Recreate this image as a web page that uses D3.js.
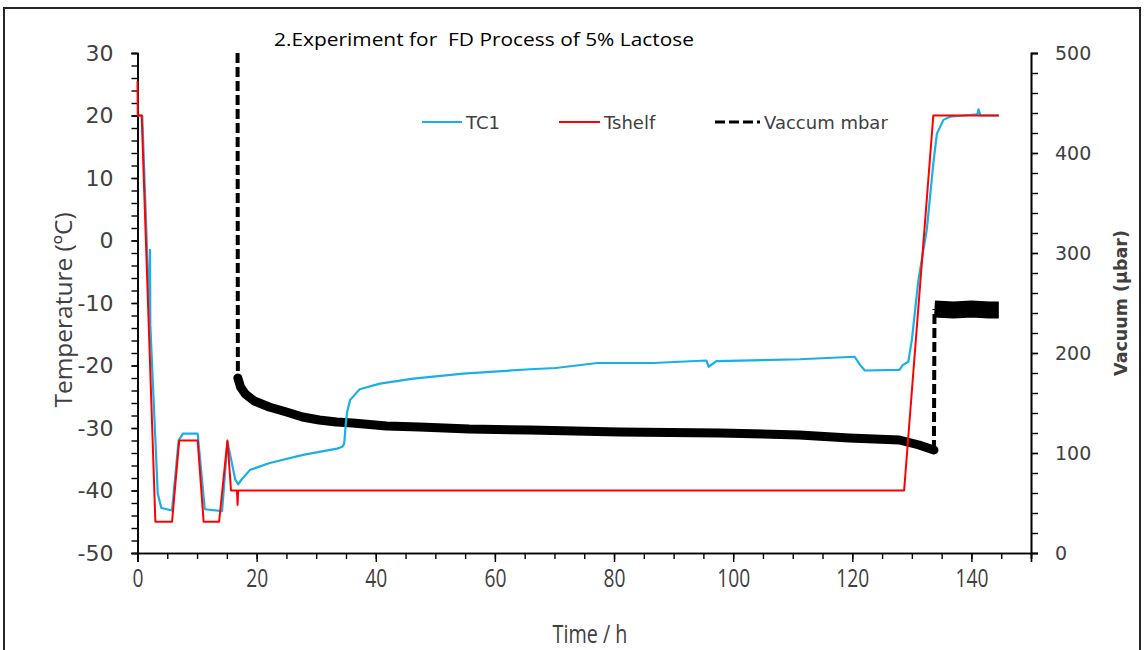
<!DOCTYPE html>
<html>
<head>
<meta charset="utf-8">
<script src="https://cdn.jsdelivr.net/npm/d3@7"></script>
<style>
  html, body { margin: 0; padding: 0; background: #fff; }
  svg { display: block; }
  text { font-family: "Open Sans", "Liberation Sans", sans-serif; fill: #404040; }
  .dv { font-family: "DejaVu Sans", "Verdana", sans-serif; }
</style>
</head>
<body>
<svg id="chart" width="1144" height="650"></svg>
<script>
// ---- data (time in hours) ----
const timeTicks = [0, 20, 40, 60, 80, 100, 120, 140];
const tempTicks = [30, 20, 10, 0, -10, -20, -30, -40, -50];
const vacTicks = [0, 100, 200, 300, 400, 500];

// product thermocouple TC1, °C
const tc1 = [
  [0, 20], [0.8, 20], [2.05, -13.5], [2.1, -1.5], [2.15, -13.5], [3.4, -40.5],
  [4.0, -42.8], [5.8, -43.2], [6.9, -32], [7.6, -30.9], [10.1, -30.9],
  [11.3, -43], [14.2, -43.3], [15.1, -32.2], [16.4, -38.2], [16.9, -39],
  [17.5, -38.2], [18.9, -36.7], [22.2, -35.6], [27.8, -34.3], [33.5, -33.3],
  [34.4, -33.0], [34.7, -32.5], [35.0, -29], [35.2, -27.4], [35.7, -25.5],
  [37.3, -23.8], [40.7, -22.9], [46.3, -22.1], [54.7, -21.3], [65.9, -20.6],
  [70.2, -20.4], [77.2, -19.6], [86.6, -19.6], [95.5, -19.2], [95.9, -20.2],
  [97.2, -19.3], [111.2, -19.0], [120.4, -18.6], [121.3, -19.9], [122.1, -20.8],
  [127.9, -20.7], [128.5, -19.9], [129.4, -19.4], [130.0, -15.9], [131.1, -6.3],
  [132.5, 1.7], [133.6, 12.3], [134.2, 17.1], [135.3, 19.3], [136.4, 19.8],
  [141.0, 20.2], [141.2, 21], [141.5, 20], [144.6, 20]
];

// shelf temperature, °C
const tshelf = [
  [0, 25.5], [0.05, 20], [0.7, 20], [3.0, -45], [5.8, -45], [7.0, -32],
  [10.1, -32], [11.1, -45], [13.7, -45], [15.1, -32], [15.7, -40],
  [16.7, -40], [16.8, -42.3], [16.9, -40], [128.7, -40], [133.6, 20],
  [144.6, 20]
];

// chamber pressure, µbar: pump-down / primary + secondary drying / release
const vacStart = [16.8, 500];
const vacDrying = [
  [16.85, 175], [17.3, 166], [18.1, 159], [19.6, 152], [22.1, 146], [25.0, 141],
  [27.7, 136], [30.5, 133], [33.4, 131], [36.1, 130], [41.8, 127], [47.3, 126],
  [55.7, 124], [65.8, 123], [80.9, 121], [97.7, 120], [111.1, 118],
  [119.5, 115], [127.9, 113], [131.2, 108], [133.7, 103]
];
const vacRelease = [
  [133.8, 244], [137, 243], [140, 244], [143, 243], [144.6, 243]
];

// ---- layout ----
const svg = d3.select("#chart");
const x = d3.scaleLinear().domain([0, 150]).range([137.5, 1031]);
const yT = d3.scaleLinear().domain([-50, 30]).range([553, 53]);
const yV = d3.scaleLinear().domain([0, 500]).range([553, 53]);
const plain = d => String(d);   // hyphen-minus for negatives

// outer frame
svg.append("rect")
  .attr("x", 4).attr("y", 8).attr("width", 1136).attr("height", 680)
  .attr("fill", "none").attr("stroke", "#262626").attr("stroke-width", 2);

// title
svg.append("text")
  .attr("x", 274).attr("y", 46)
  .style("white-space", "pre")
  .attr("font-size", 18)
  .attr("textLength", 420).attr("lengthAdjust", "spacingAndGlyphs")
  .style("fill", "#000")
  .text("2.Experiment for  FD Process of 5% Lactose");

// ---- axes ----
function styleAxis(g) {
  g.selectAll("path.domain").attr("stroke", "#000").attr("stroke-width", 1.6);
  g.selectAll(".tick line").attr("stroke", "#000").attr("stroke-width", 1.4);
}

// minor ticks
svg.append("g").attr("transform", "translate(0,553)")
  .call(d3.axisBottom(x).tickValues(d3.range(0, 151, 5)).tickSize(6).tickFormat(""))
  .call(styleAxis);
svg.append("g").attr("transform", "translate(137.5,0)")
  .call(d3.axisLeft(yT).tickValues(d3.range(-50, 31, 2)).tickSize(6).tickFormat(""))
  .call(styleAxis);
svg.append("g").attr("transform", "translate(1031,0)")
  .call(d3.axisRight(yV).tickValues(d3.range(0, 501, 20)).tickSize(7).tickFormat(""))
  .call(styleAxis);

// major ticks with labels
const gx = svg.append("g").attr("transform", "translate(0,553)")
  .call(d3.axisBottom(x).tickValues(timeTicks).tickSize(9).tickPadding(13).tickFormat(plain))
  .call(styleAxis);
gx.selectAll("text").attr("font-size", 26).attr("fill", "#404040").attr("font-family", null)
  .attr("transform", "scale(0.74,1)").attr("y", 16).attr("dy", "0.71em");

const gy = svg.append("g").attr("transform", "translate(137.5,0)")
  .call(d3.axisLeft(yT).tickValues(tempTicks).tickSize(6).tickPadding(18).tickFormat(plain))
  .call(styleAxis);
gy.selectAll("text").attr("class", "dv").attr("font-size", 22).attr("fill", "#404040").attr("font-family", null);

const gv = svg.append("g").attr("transform", "translate(1031,0)")
  .call(d3.axisRight(yV).tickValues(vacTicks).tickSize(7).tickPadding(17).tickFormat(plain))
  .call(styleAxis);
gv.selectAll("text").attr("class", "dv").attr("font-size", 19).attr("fill", "#404040").attr("font-family", null);

// axis titles
svg.append("text")
  .attr("transform", "translate(72,310) rotate(-90)")
  .attr("text-anchor", "middle").attr("font-size", 24.5)
  .text("Temperature (ºC)");
svg.append("text")
  .attr("transform", "translate(590,643) scale(0.76,1)")
  .attr("text-anchor", "middle").attr("font-size", 26)
  .text("Time / h");
svg.append("text")
  .attr("class", "dv")
  .attr("transform", "translate(1127,303) rotate(-90)")
  .attr("text-anchor", "middle").attr("font-size", 17.5).attr("font-weight", "bold")
  .text("Vacuum (µbar)");

// ---- series ----
const lineT = d3.line().x(d => x(d[0])).y(d => yT(d[1]));
const lineV = d3.line().x(d => x(d[0])).y(d => yV(d[1]));

const plot = svg.append("g");

// vacuum: noisy logged segments drawn as a heavy trace, jumps as dashes
plot.append("path").datum(vacDrying).attr("d", lineV)
  .attr("fill", "none").attr("stroke", "#000").attr("stroke-width", 9)
  .attr("stroke-linejoin", "round").attr("stroke-linecap", "round");
plot.append("path").datum(vacRelease).attr("d", lineV)
  .attr("fill", "none").attr("stroke", "#000").attr("stroke-width", 17)
  .attr("stroke-linejoin", "round");
const jumps = [
  [vacStart, vacDrying[0]],
  [vacDrying[vacDrying.length - 1], vacRelease[0]]
];
plot.selectAll("path.jump").data(jumps).join("path")
  .attr("class", "jump").attr("d", lineV)
  .attr("fill", "none").attr("stroke", "#000").attr("stroke-width", 4)
  .attr("stroke-dasharray", "10,4");

plot.append("path").datum(tc1).attr("d", lineT)
  .attr("fill", "none").attr("stroke", "#1aafe6").attr("stroke-width", 2.2)
  .attr("stroke-linejoin", "round");

plot.append("path").datum(tshelf).attr("d", lineT)
  .attr("fill", "none").attr("stroke", "#ff0000").attr("stroke-width", 2)
  .attr("stroke-linejoin", "round");

// ---- legend ----
const legend = [
  { label: "TC1", color: "#1aafe6", x: 422, len: 40, dash: null, w: 1.8 },
  { label: "Tshelf", color: "#ff0000", x: 559, len: 41, dash: null, w: 1.8 },
  { label: "Vaccum mbar", color: "#000", x: 715, len: 45, dash: "10,4", w: 3 }
];
const lg = svg.append("g").selectAll("g").data(legend).join("g")
  .attr("transform", d => `translate(${d.x},122)`);
lg.append("line").attr("x1", 0).attr("x2", d => d.len).attr("y1", 0).attr("y2", 0)
  .attr("stroke", d => d.color).attr("stroke-width", d => d.w)
  .attr("stroke-dasharray", d => d.dash);
lg.append("text").attr("class", "dv").attr("x", d => d.len + 4).attr("y", 6.5).attr("font-size", 18)
  .attr("fill", "#333").text(d => d.label);
</script>
</body>
</html>
